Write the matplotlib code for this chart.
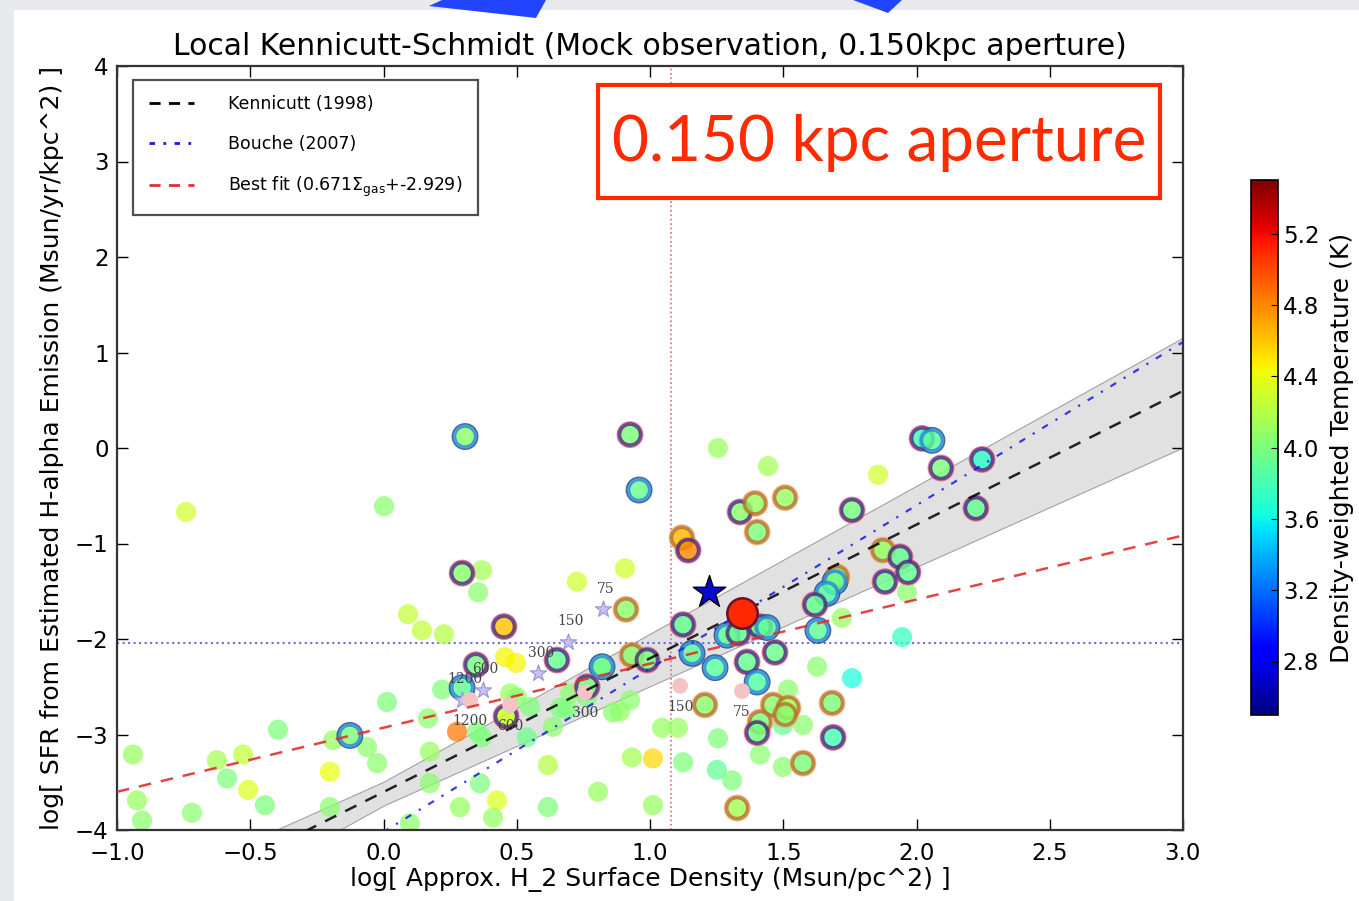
import matplotlib
matplotlib.use('Agg')
import matplotlib.pyplot as plt
import numpy as np
from matplotlib.patches import Rectangle, Polygon
from matplotlib.lines import Line2D

# ---------------- data ----------------
# plain (no ring) clumps: log Sigma_H2, log SFR, log T
plain_x = [-0.741, 0.002, 0.092, 0.144, 0.227, 0.370, 0.355, 0.456, 0.497, 0.220,
           0.013, -0.396, -0.189, -0.062, -0.024, -0.940, -0.625, -0.527, -0.201, -0.587,
           -0.508, -0.925, -0.906, -0.719, -0.445, -0.201, 0.174, 0.362, 0.287, 0.426,
           0.411, 0.099, 0.617, 0.617, 0.276, 0.174, 0.475, 0.538, 0.370, 0.726,
           0.906, 0.805, 0.932, 1.011, 1.011, 1.124, 1.255, 1.443, 1.856, 1.720,
           1.964, 1.946, 1.758, 1.627, 1.518, 0.887, 0.925, 1.045, 1.105, 1.255,
           1.499, 1.574, 1.413, 1.251, 1.308, 1.499, 0.700, 0.662, 0.764, 0.861,
           0.689, 0.636, 0.550, 0.501, 0.167, 0.351, 0.812]
plain_y = [-0.67, -0.61, -1.74, -1.91, -1.95, -1.28, -1.51, -2.19, -2.25, -2.53,
           -2.66, -2.95, -3.06, -3.13, -3.30, -3.21, -3.27, -3.21, -3.39, -3.46,
           -3.58, -3.69, -3.90, -3.82, -3.74, -3.76, -3.51, -3.51, -3.76, -3.69,
           -3.87, -3.93, -3.32, -3.76, -2.97, -3.18, -2.57, -3.03, -3.03, -1.40,
           -1.26, -3.60, -3.24, -3.25, -3.74, -3.29, 0.00, -0.19, -0.28, -1.78,
           -1.51, -1.98, -2.41, -2.29, -2.53, -2.76, -2.64, -2.93, -2.93, -3.04,
           -2.90, -2.90, -3.21, -3.37, -3.48, -3.34, -2.57, -2.72, -2.61, -2.77,
           -2.74, -2.92, -2.71, -2.61, -2.83, -2.97, -2.30]
plain_T = [4.30, 4.05, 4.25, 4.25, 4.20, 4.15, 4.05, 4.45, 4.45, 4.00,
           4.00, 4.00, 4.10, 4.05, 4.05, 4.10, 4.15, 4.25, 4.40, 4.00,
           4.35, 4.10, 4.05, 4.05, 4.00, 4.05, 4.05, 4.00, 4.10, 4.35,
           4.10, 4.05, 4.20, 4.00, 4.85, 4.10, 4.10, 3.95, 4.00, 4.30,
           4.30, 4.10, 4.15, 4.55, 4.10, 4.00, 4.10, 4.15, 4.30, 4.10,
           4.05, 3.75, 3.65, 4.05, 4.05, 4.10, 4.05, 4.10, 4.10, 4.00,
           3.90, 4.05, 4.05, 3.90, 4.00, 4.05, 4.05, 4.00, 4.00, 4.05,
           4.00, 4.05, 4.00, 4.05, 4.05, 4.00, 4.00]

# ringed clumps
ring_x = [0.306, 0.925, 0.959, 0.295, 0.452, 0.347, 0.295, 0.460, -0.126, 0.651,
          0.910, 0.820, 0.764, 0.932, 0.989, 1.120, 1.143, 1.338, 1.394, 1.507,
          1.402, 1.758, 2.021, 2.058, 2.092, 2.246, 2.223, 1.874, 1.938, 1.968,
          1.882, 1.702, 1.694, 1.664, 1.619, 1.630, 1.124, 1.289, 1.330, 1.413,
          1.439, 1.158, 1.244, 1.364, 1.469, 1.402, 1.206, 1.462, 1.518, 1.507,
          1.683, 1.413, 1.402, 1.687, 1.574, 1.327]
ring_y = [0.12, 0.14, -0.44, -1.31, -1.87, -2.27, -2.51, -2.81, -3.01, -2.22,
          -1.69, -2.29, -2.50, -2.17, -2.22, -0.94, -1.07, -0.67, -0.58, -0.52,
          -0.88, -0.65, 0.10, 0.08, -0.21, -0.12, -0.63, -1.07, -1.14, -1.30,
          -1.40, -1.35, -1.40, -1.52, -1.64, -1.91, -1.85, -1.96, -1.94, -1.87,
          -1.88, -2.15, -2.30, -2.24, -2.14, -2.45, -2.69, -2.69, -2.72, -2.79,
          -2.67, -2.87, -2.98, -3.03, -3.30, -3.77]
ring_T = [4.05, 4.00, 3.95, 4.05, 4.60, 3.98, 3.90, 4.30, 4.00, 3.92,
          4.05, 3.95, 3.98, 4.05, 3.98, 4.65, 4.80, 4.05, 4.10, 4.10,
          4.00, 3.98, 3.80, 3.88, 4.00, 3.72, 3.92, 4.10, 3.92, 3.92,
          3.95, 4.05, 3.95, 3.85, 3.92, 3.90, 3.92, 3.90, 3.92, 3.92,
          3.90, 3.90, 3.88, 3.92, 3.95, 3.85, 4.05, 4.05, 4.15, 4.05,
          4.00, 4.00, 3.98, 3.82, 4.00, 4.15]
ring_kind = ['b', 'p', 'b', 'p', 'p', 'p', 'b', 'p', 'b', 'p',
             'o', 'b', 'p', 'o', 'p', 'o', 'p', 'p', 'o', 'o',
             'o', 'p', 'p', 'b', 'p', 'p', 'p', 'o', 'p', 'p',
             'p', 'o', 'b', 'b', 'p', 'b', 'p', 'b', 'p', 'p',
             'b', 'b', 'b', 'p', 'p', 'b', 'o', 'o', 'o', 'o',
             'o', 'o', 'p', 'p', 'o', 'o']

# galaxy-averaged points
star_x, star_y = 1.221, -1.51
mean_x, mean_y, mean_T = 1.345, -1.73, 5.1

# aperture series (labels in pc)
apA_labels = ['75', '150', '300', '600', '1200']
apA_x = [0.824, 0.692, 0.580, 0.373, 0.295]
apA_y = [-1.69, -2.03, -2.36, -2.53, -2.64]
apB_labels = ['75', '150', '300', '600', '1200']
apB_x = [1.345, 1.113, 0.756, 0.475, 0.325]
apB_y = [-2.545, -2.49, -2.56, -2.69, -2.64]

# reference relations
ks_A, ks_A_err, ks_N, ks_N_err = 2.5e-4, 0.7e-4, 1.4, 0.15
bouche_slope, bouche_icpt = 1.71, -4.02
fit_slope, fit_icpt = 0.671, -2.929
median_x, median_y = 1.08, -2.045

# ---------------- figure ----------------
W, H = 1359, 901
fig = plt.figure(figsize=(W / 100, H / 100), dpi=100)
fig.patch.set_facecolor('#e8e9ed')
fig.patches.append(Rectangle((14 / W, 0), 1 - 14 / W, 1 - 10 / H, transform=fig.transFigure,
                             facecolor='white', edgecolor='none', zorder=-10))
# blue arrow tips at top of slide
def fpt(px, py):
    return (px / W, 1 - py / H)
fig.patches.append(Polygon([fpt(429, 6), fpt(442, 0), fpt(546, 0), fpt(536, 18)], closed=True,
                           transform=fig.transFigure, facecolor='#2244ff', edgecolor='none', zorder=-5))
fig.patches.append(Polygon([fpt(853, 0), fpt(902, 0), fpt(888, 13)], closed=True,
                           transform=fig.transFigure, facecolor='#2244ff', edgecolor='none', zorder=-5))

ax = fig.add_axes([117 / W, 1 - 830 / H, (1183 - 117) / W, (830 - 66) / H])
ax.set_zorder(1)
cmap = plt.get_cmap('jet')
vmin, vmax = 2.5, 5.5

xx = np.linspace(-1, 3, 200)
lo_A, hi_A = np.log10(ks_A - ks_A_err), np.log10(ks_A + ks_A_err)
upper = np.maximum(hi_A + (ks_N - ks_N_err) * xx, hi_A + (ks_N + ks_N_err) * xx)
lower = np.minimum(lo_A + (ks_N - ks_N_err) * xx, lo_A + (ks_N + ks_N_err) * xx)
ax.fill_between(xx, lower, upper, facecolor='#d8d8d8', edgecolor='#888888', lw=0.8,
                alpha=0.75, zorder=1)

ax.axvline(median_x, color='#e06a6a', ls=':', lw=1.2, zorder=1.5)
ax.axhline(median_y, color='#6a6ae0', ls=':', lw=1.5, zorder=1.5)

sc = ax.scatter(plain_x, plain_y, c=plain_T, cmap=cmap, vmin=vmin, vmax=vmax, s=210,
                edgecolors='none', alpha=0.72, zorder=2)

halo_col = {'p': '#e0607a', 'b': '#17407a', 'o': '#f0b070'}
edge_col = {'p': '#4a2a80', 'b': '#2a86d8', 'o': '#b8702e'}
ax.scatter(ring_x, ring_y, facecolors='none', edgecolors=[halo_col[k] for k in ring_kind],
           s=330, linewidths=1.2, zorder=2.4, alpha=0.8)
ax.scatter(ring_x, ring_y, c=ring_T, cmap=cmap, vmin=vmin, vmax=vmax, s=230,
           edgecolors=[edge_col[k] for k in ring_kind], linewidths=2.6, zorder=2.5, alpha=0.82)

# aperture series
ax.scatter(apA_x, apA_y, marker='*', s=150, facecolors='#c8c0ee', edgecolors='#9890d8',
           linewidths=0.8, zorder=2.6)
for lx, ly, lab in zip(apA_x, apA_y, apA_labels):
    ax.annotate(lab, (lx, ly), xytext=(2, 12), textcoords='offset points', fontsize=10,
                family='DejaVu Serif', color='#444444', ha='center', zorder=6)
ax.scatter(apB_x, apB_y, marker='o', s=130, facecolors='#f4c4c4', edgecolors='none',
           zorder=2.6)
for lx, ly, lab in zip(apB_x, apB_y, apB_labels):
    ax.annotate(lab, (lx, ly), xytext=(0, -18), textcoords='offset points', fontsize=10,
                family='DejaVu Serif', color='#444444', ha='center', zorder=6)

# reference relations
ax.plot(xx, np.log10(ks_A) + ks_N * xx, color='black', ls=(0, (5, 4)), lw=1.8, zorder=4,
        alpha=0.85)
ax.plot(xx, bouche_icpt + bouche_slope * xx, color='#1a1ae0', ls=(0, (3, 4, 1, 4)), lw=1.6,
        zorder=4, alpha=0.85)
ax.plot(xx, fit_icpt + fit_slope * xx, color='#e03030', ls=(0, (5, 4)), lw=1.8, zorder=4,
        alpha=0.9)

ax.scatter([mean_x], [mean_y], c=[mean_T], cmap=cmap, vmin=vmin, vmax=vmax, s=480,
           edgecolors='#6a1030', linewidths=1.8, zorder=5)
ax.scatter([star_x], [star_y], marker='*', s=600, c='#0a0ad0', edgecolors='black',
           linewidths=1.0, zorder=5)

ax.set_xlim(-1, 3)
ax.set_ylim(-4, 4)
ax.set_xticks(np.arange(-1.0, 3.01, 0.5))
ax.set_yticks(np.arange(-4, 5, 1))
ax.tick_params(direction='in', top=True, right=True, length=8, width=1, labelsize=16.5,
               pad=6)
ax.tick_params(axis='x', pad=9)
for sp in ax.spines.values():
    sp.set_linewidth(1.6)
    sp.set_color('#333333')
ax.set_title('Local Kennicutt-Schmidt (Mock observation, 0.150kpc aperture)', fontsize=21.5,
             pad=8)
ax.set_xlabel('log[ Approx. H_2 Surface Density (Msun/pc^2) ]', fontsize=18, labelpad=1)
ax.set_ylabel('log[ SFR from Estimated H-alpha Emission (Msun/yr/kpc^2) ]', fontsize=18,
              labelpad=8)

handles = [Line2D([], [], color='black', ls=(0, (4, 3)), lw=2),
           Line2D([], [], color='#1a1ae0', ls=(0, (2, 3, 1, 3)), lw=2),
           Line2D([], [], color='#e03030', ls=(0, (4, 3)), lw=2)]
labels = ['Kennicutt (1998)', 'Bouche (2007)', r'Best fit (0.671$\Sigma_{\rm gas}$+-2.929)']
leg = ax.legend(handles, labels, loc='upper left', bbox_to_anchor=(0.015, 0.982),
                borderaxespad=0, fontsize=12.5, frameon=True, fancybox=False,
                labelspacing=1.25, handlelength=2.6, handletextpad=2.0, borderpad=0.9)
leg.get_frame().set_edgecolor('#222222')
leg.get_frame().set_linewidth(1.6)
leg.set_zorder(7)

# colorbar
cax = fig.add_axes([1251 / W, 1 - 715 / H, 27 / W, (715 - 180) / H])
cb = fig.colorbar(sc, cax=cax)
cb.solids.set_alpha(1)
cb.set_ticks(np.arange(2.8, 5.21, 0.4))
cb.ax.tick_params(labelsize=16.5, direction='in', length=5)
cb.set_label('Density-weighted Temperature (K)', fontsize=18, labelpad=8)
cb.outline.set_linewidth(1.2)

# slide annotation box
fig.patches.append(Rectangle((598 / W, 1 - 198 / H), (1160 - 598) / W, (198 - 85) / H,
                             transform=fig.transFigure, facecolor='white',
                             edgecolor='#ff2a00', lw=3, zorder=10))
fig.text(879 / W, 1 - 143 / H, '0.150 kpc aperture', fontsize=46, family='Lato',
         color='#ff2a00', ha='center', va='center', zorder=11)

fig.savefig('out.png', dpi=100, facecolor=fig.get_facecolor())
